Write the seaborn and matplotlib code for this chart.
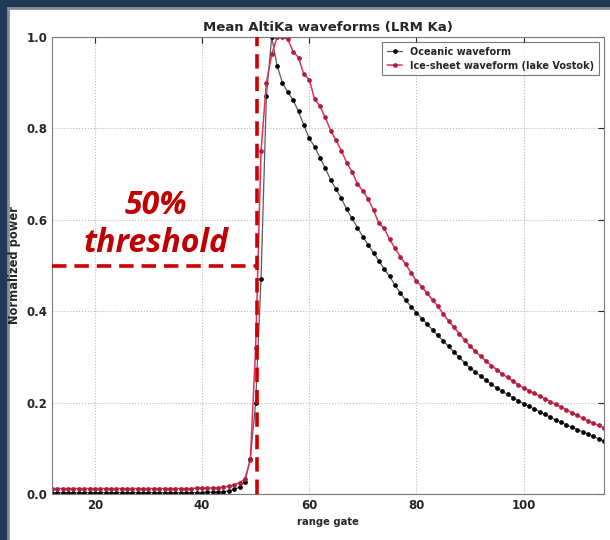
import matplotlib
matplotlib.use("Agg")
import matplotlib.pyplot as plt
from matplotlib.patches import Rectangle
import seaborn as sns
import numpy as np
import pandas as pd

# range gates 12..115
gates = list(range(12, 116))

oceanic = [
    0.003, 0.003, 0.003, 0.003, 0.003, 0.003, 0.003, 0.003, 0.003, 0.003,  # 12-21
    0.003, 0.003, 0.003, 0.003, 0.003, 0.003, 0.003, 0.003, 0.003, 0.003,  # 22-31
    0.003, 0.003, 0.003, 0.003, 0.003, 0.003, 0.003, 0.003, 0.003,         # 32-40
    0.004, 0.004, 0.004, 0.005, 0.007, 0.010, 0.015, 0.027, 0.077, 0.20,   # 41-50
    0.47, 0.87, 1.0, 0.937, 0.90, 0.879, 0.862, 0.837, 0.807, 0.778,       # 51-60
    0.76, 0.736, 0.713, 0.687, 0.667, 0.647, 0.623, 0.603, 0.583, 0.563,   # 61-70
    0.545, 0.528, 0.51, 0.492, 0.476, 0.457, 0.44, 0.424, 0.41, 0.397,     # 71-80
    0.384, 0.372, 0.359, 0.347, 0.335, 0.323, 0.311, 0.299, 0.287, 0.276,  # 81-90
    0.267, 0.258, 0.249, 0.240, 0.232, 0.225, 0.218, 0.211, 0.204, 0.198,  # 91-100
    0.192, 0.186, 0.180, 0.174, 0.168, 0.162, 0.157, 0.151, 0.146, 0.141,  # 101-110
    0.136, 0.131, 0.126, 0.121, 0.116,                                     # 111-115
]

icesheet = [
    0.012, 0.012, 0.012, 0.012, 0.012, 0.012, 0.012, 0.012, 0.012, 0.012,  # 12-21
    0.012, 0.012, 0.012, 0.012, 0.012, 0.012, 0.012, 0.012, 0.012, 0.012,  # 22-31
    0.012, 0.012, 0.012, 0.012, 0.012, 0.012, 0.012,                       # 32-38
    0.013, 0.013, 0.013, 0.013, 0.014, 0.015, 0.017, 0.020, 0.025, 0.033,  # 39-48
    0.075, 0.32,                                                           # 49-50
    0.75, 0.90, 0.962, 1.0, 1.0, 0.995, 0.968, 0.955, 0.918, 0.907,        # 51-60
    0.864, 0.849, 0.824, 0.795, 0.774, 0.751, 0.725, 0.705, 0.678, 0.664,  # 61-70
    0.645, 0.621, 0.592, 0.581, 0.557, 0.538, 0.519, 0.503, 0.484, 0.466,  # 71-80
    0.454, 0.439, 0.425, 0.411, 0.394, 0.379, 0.365, 0.351, 0.337, 0.324,  # 81-90
    0.312, 0.301, 0.291, 0.281, 0.272, 0.263, 0.255, 0.247, 0.239, 0.232,  # 91-100
    0.226, 0.220, 0.214, 0.208, 0.202, 0.196, 0.190, 0.184, 0.178, 0.172,  # 101-110
    0.166, 0.160, 0.155, 0.150, 0.145,                                     # 111-115
]

threshold_gate = 50.3
threshold_level = 0.5

df = pd.DataFrame({"gate": gates, "oceanic": oceanic, "icesheet": icesheet})

sns.set_style("whitegrid", {"grid.linestyle": ":", "grid.color": "#b8b8b8",
                            "axes.edgecolor": "#777777"})
plt.rcParams["font.family"] = ["DejaVu Sans"]
plt.rcParams["font.weight"] = "bold"

fig = plt.figure(figsize=(6.1, 5.4), dpi=100)
fig.patch.set_facecolor("#1e3a56")
# white page with grey border, as in the screenshot
fig.patches.append(Rectangle((8 / 610, -0.01), 1.02, (540 - 8) / 540 + 0.01,
                             transform=fig.transFigure, facecolor="white",
                             edgecolor="#8c8c8c", linewidth=2.0, zorder=-5))

ax = fig.add_axes([52 / 610, 46 / 540, 552 / 610, 457 / 540])
ax.set_zorder(2)

sns.lineplot(data=df, x="gate", y="oceanic", ax=ax, color="#5a5a5a", linewidth=0.9,
             marker="o", markersize=2.6, markerfacecolor="black", markeredgecolor="black",
             label="Oceanic waveform")
sns.lineplot(data=df, x="gate", y="icesheet", ax=ax, color="#e2305a", linewidth=1.1,
             marker="o", markersize=2.6, markerfacecolor="#b01c3c", markeredgecolor="#b01c3c",
             label="Ice-sheet waveform (lake Vostok)")

ax.axvline(threshold_gate, color="#cc0000", linewidth=2.6, dashes=(4, 2.2), zorder=5)
ax.plot([12, threshold_gate], [threshold_level, threshold_level], color="#cc0000",
        linewidth=2.6, dashes=(4, 2.2), zorder=5)
ax.text(31.4, 0.59, "50%\nthreshold", color="#c00000", fontsize=23,
        fontweight="bold", fontstyle="italic", ha="center", va="center",
        linespacing=1.2, family=["Open Sans", "DejaVu Sans"])

ax.set_xlim(12, 115)
ax.set_ylim(0, 1.0)
ax.set_xticks([20, 40, 60, 80, 100])
ax.set_yticks([0.0, 0.2, 0.4, 0.6, 0.8, 1.0])
ax.set_yticklabels(["0.0", "0.2", "0.4", "0.6", "0.8", "1.0"])
ax.tick_params(axis="both", labelsize=8.5, direction="in", length=4, top=True, right=True)
for lab in ax.get_xticklabels() + ax.get_yticklabels():
    lab.set_fontweight("bold")
ax.set_xlabel("range gate", fontsize=7.2, fontweight="bold")
ax.set_ylabel("Normalized power", fontsize=8.3, fontweight="bold")
ax.set_title("Mean AltiKa waveforms (LRM Ka)", fontsize=9.5, fontweight="bold", pad=4)

leg = ax.legend(loc="upper right", fontsize=7, frameon=True, fancybox=False,
                handlelength=1.6, borderpad=0.5, labelspacing=0.4)
leg.get_frame().set_edgecolor("#555555")
leg.get_frame().set_linewidth(0.8)
for t in leg.get_texts():
    t.set_fontweight("bold")

fig.savefig("out.png", dpi=100, facecolor=fig.get_facecolor())
